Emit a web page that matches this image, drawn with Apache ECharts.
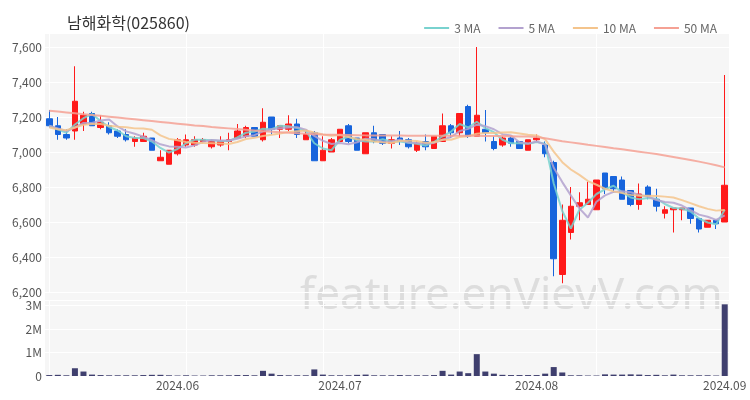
<!DOCTYPE html>
<html>
<head>
<meta charset="utf-8">
<script src="https://cdn.jsdelivr.net/npm/echarts@6/dist/echarts.min.js"></script>
<style>
html,body{margin:0;padding:0;background:#fff;}
#chart{width:750px;height:400px;}
</style>
</head>
<body>
<div id="chart"></div>
<script>
const title = '남해화학(025860)';
const dates = [
'2024-05-10','2024-05-13','2024-05-14','2024-05-16','2024-05-17','2024-05-20','2024-05-21','2024-05-22','2024-05-23','2024-05-24',
'2024-05-27','2024-05-28','2024-05-29','2024-05-30','2024-05-31',
'2024-06-03','2024-06-04','2024-06-05','2024-06-07','2024-06-10','2024-06-11','2024-06-12','2024-06-13','2024-06-14','2024-06-17',
'2024-06-18','2024-06-19','2024-06-20','2024-06-21','2024-06-24','2024-06-25','2024-06-26','2024-06-27','2024-06-28',
'2024-07-01','2024-07-02','2024-07-03','2024-07-04','2024-07-05','2024-07-08','2024-07-09','2024-07-10','2024-07-11','2024-07-12',
'2024-07-15','2024-07-16','2024-07-17','2024-07-18','2024-07-19','2024-07-22','2024-07-23','2024-07-24','2024-07-25','2024-07-26',
'2024-07-29','2024-07-30','2024-07-31',
'2024-08-01','2024-08-02','2024-08-05','2024-08-06','2024-08-07','2024-08-08','2024-08-09','2024-08-12','2024-08-13','2024-08-14',
'2024-08-15','2024-08-16','2024-08-19','2024-08-20','2024-08-21','2024-08-22','2024-08-23','2024-08-26','2024-08-27','2024-08-28',
'2024-08-29','2024-08-30',
'2024-09-02'
];
const opens = [7190,7150,7100,7120,7160,7220,7140,7150,7120,7100, 7060,7060,7080,6950,6930,6990,7040,7040,7060,7030,
7040,7060,7080,7090,7140,7070,7200,7130,7130,7160, 7070,7110,6950,7000,7060,7150,7080,6990,7110,7100,
7050,7080,7070,7010,7060,7020,7060,7150,7110,7260, 7090,7130,7060,7040,7080,7060,7010,7070,7040,6940,
6300,6540,6690,6700,6670,6880,6860,6840,6780,6700, 6800,6730,6650,6670,6670,6680,6620,6570,6610,6600];
const closes = [7150,7100,7080,7290,7210,7150,7170,7110,7090,7070, 7080,7090,7010,6970,7010,7070,7070,7070,7070,7060,
7060,7070,7120,7140,7090,7170,7130,7150,7160,7100, 7100,6950,7010,7070,7130,7060,7010,7110,7060,7050,
7070,7060,7030,7050,7030,7090,7150,7110,7220,7090, 7210,7110,7020,7080,7050,7020,7070,7080,6990,6390,
6610,6690,6710,6730,6840,6790,6790,6730,6700,6760, 6750,6690,6670,6680,6680,6620,6560,6610,6590,6810];
const lows = [7140,7070,7070,7070,7120,7150,7130,7100,7080,7060, 7030,7060,7010,6950,6930,6980,7030,7030,7050,7020,
7030,7010,7080,7080,7090,7060,7100,7080,7120,7080, 7070,6950,6950,7000,7060,7050,7010,6990,7050,7040,
7020,7040,7020,7000,7010,7020,7060,7080,7090,7080, 7090,7060,7010,7030,7030,7020,7010,7060,6970,6290,
6250,6500,6610,6700,6670,6760,6770,6730,6690,6670, 6730,6660,6620,6540,6610,6590,6540,6570,6560,6600];
const highs = [7240,7200,7130,7490,7230,7230,7210,7170,7130,7130, 7090,7110,7080,7010,7010,7080,7100,7090,7080,7070,
7090,7110,7160,7150,7140,7250,7200,7150,7210,7190, 7120,7120,7090,7080,7130,7160,7080,7110,7150,7100,
7090,7120,7080,7060,7100,7090,7220,7160,7220,7270, 7600,7240,7090,7090,7090,7060,7070,7100,7060,6950,
6700,6800,6770,6830,6840,6880,6860,6860,6780,6820, 6810,6790,6690,6680,6680,6680,6620,6610,6610,7440];
const volumes = [40000,50000,30000,330000,190000,60000,40000,30000,30000,30000, 30000,40000,50000,50000,30000,20000,30000,20000,20000,30000,
30000,30000,40000,40000,30000,220000,100000,40000,30000,30000, 30000,280000,60000,30000,30000,30000,50000,60000,30000,30000,
30000,40000,30000,30000,30000,40000,220000,60000,190000,120000, 930000,190000,100000,50000,40000,40000,40000,40000,100000,380000,
150000,30000,30000,20000,20000,70000,60000,60000,70000,60000, 40000,50000,30000,60000,30000,30000,30000,30000,20000,3050000];
const ma3 = [7150,7130,7110,7157,7193,7217,7177,7143,7123,7090, 7080,7080,7060,7023,6997,7017,7050,7070,7070,7067,
7063,7063,7083,7110,7117,7133,7130,7150,7147,7137, 7120,7050,7020,7010,7070,7087,7067,7060,7060,7073,
7060,7060,7053,7047,7037,7057,7090,7117,7160,7140, 7173,7137,7113,7070,7050,7050,7047,7057,7047,6820,
6663,6563,6670,6710,6760,6787,6807,6770,6740,6730, 6737,6733,6703,6680,6677,6660,6620,6597,6587,6670];
const ma5 = [7150,7135,7120,7140,7166,7166,7180,7186,7146,7118, 7104,7088,7068,7044,7032,7030,7026,7038,7058,7068,
7066,7066,7076,7090,7096,7118,7130,7136,7140,7142, 7128,7092,7064,7046,7052,7044,7056,7076,7074,7058,
7060,7070,7054,7052,7048,7052,7070,7086,7120,7132, 7156,7148,7130,7102,7094,7056,7048,7060,7042,6910,
6828,6752,6678,6626,6716,6752,6772,6776,6770,6754, 6746,6726,6714,6710,6694,6668,6642,6630,6612,6638];
const ma10 = [7140,7130,7125,7140,7155,7160,7160,7150,7145,7142, 7135,7134,7127,7095,7075,7067,7057,7053,7051,7050,
7048,7046,7057,7074,7082,7092,7098,7106,7115,7119, 7123,7111,7100,7093,7097,7086,7074,7070,7060,7055,
7052,7063,7065,7063,7053,7056,7070,7070,7086,7090, 7104,7109,7108,7111,7113,7106,7098,7095,7072,7002,
6942,6900,6869,6834,6813,6790,6775,6765,6755,6750, 6750,6748,6745,6740,6725,6708,6690,6675,6665,6668];
const ma50 = [7236,7231,7226,7221,7216,7211,7207,7202,7197,7192, 7187,7182,7177,7172,7167,7162,7157,7152,7148,7143,
7139,7135,7131,7127,7123,7119,7116,7113,7110,7107, 7104,7102,7100,7099,7098,7097,7096,7095,7095,7094,
7094,7094,7093,7093,7093,7093,7093,7093,7093,7093, 7093,7092,7092,7091,7090,7089,7088,7086,7078,7070,
7062,7055,7048,7041,7035,7029,7022,7016,7009,7002, 6995,6988,6980,6972,6963,6954,6945,6935,6924,6912];
const priceTicks = {min: 6200, max: 7680, step: 200};
const volTicks = {min: 0, max: 3234000, step: 1000000};
const maNames = ['3 MA','5 MA','10 MA','50 MA'];

const candleData = dates.map((d, i) => [opens[i], closes[i], lows[i], highs[i]]);
const FONT = "'Noto Sans CJK KR', 'Noto Sans', sans-serif";
const chart = echarts.init(document.getElementById('chart'), null, {renderer: 'canvas'});
const maColors = ['#79d2cf', '#b3a2cf', '#f4c48c', '#f5a194'];
function maSeries(name, data, color) {
  return {name, type: 'line', data, xAxisIndex: 0, yAxisIndex: 0, showSymbol: false, symbol: 'none',
    lineStyle: {width: 2, color, opacity: 0.85}, itemStyle: {color}, z: 3, silent: true};
}
chart.setOption({
  animation: false,
  backgroundColor: '#ffffff',
  title: {text: title, left: 62, top: 10, textStyle: {fontFamily: FONT, fontSize: 16, fontWeight: 'normal', color: '#333'}},
  legend: {data: maNames, right: 28, top: 17, itemWidth: 25, itemHeight: 2, itemGap: 18, icon: 'rect',
    textStyle: {fontFamily: FONT, fontSize: 12, color: '#666'}},
  graphic: [
    {type: 'rect', z: -10, silent: true, shape: {x: 45, y: 33, width: 684, height: 343}, style: {fill: '#f6f6f6'}},
    {type: 'text', z: -5, silent: true, left: 300, top: 274, style: {text: 'feature.enVievV.com', fill: 'rgba(200,200,200,0.55)', font: "44px 'Noto Sans', sans-serif"}}
  ],
  grid: [
    {left: 45, right: 21, top: 33, height: 259},
    {left: 45, right: 21, top: 300, height: 76}
  ],
  xAxis: [
    {type: 'category', gridIndex: 0, data: dates, boundaryGap: true,
      axisLine: {show: false}, axisTick: {show: false, alignWithLabel: true, interval: 15}, axisLabel: {show: false},
      splitLine: {show: true, interval: 15, alignWithLabel: true, lineStyle: {color: '#ffffff', width: 1}}},
    {type: 'category', gridIndex: 1, data: dates, boundaryGap: true,
      axisLine: {show: false}, axisTick: {show: false, alignWithLabel: true, interval: 15},
      splitLine: {show: true, interval: 15, alignWithLabel: true, lineStyle: {color: '#ffffff', width: 1}},
      axisLabel: {show: true, color: '#555', fontFamily: FONT, fontSize: 12, margin: 3,
        interval: (idx, val) => idx > 0 && val.slice(0, 7) !== dates[idx - 1].slice(0, 7),
        formatter: v => v.slice(0, 4) + '.' + v.slice(5, 7)}}
  ],
  yAxis: [
    {type: 'value', gridIndex: 0, min: priceTicks.min, max: priceTicks.max, interval: priceTicks.step, scale: true,
      axisLine: {show: false}, axisTick: {show: false},
      axisLabel: {color: '#555', fontFamily: FONT, fontSize: 12, margin: 3, showMaxLabel: false,
        formatter: v => v.toLocaleString('en-US')},
      splitLine: {lineStyle: {color: '#ffffff', width: 1}}},
    {type: 'value', gridIndex: 1, min: volTicks.min, max: volTicks.max, interval: volTicks.step,
      axisLine: {show: false}, axisTick: {show: false},
      axisLabel: {color: '#555', fontFamily: FONT, fontSize: 12, margin: 3, showMaxLabel: false,
        formatter: v => v === 0 ? '0' : (v / 1000000) + 'M'},
      splitLine: {lineStyle: {color: '#ffffff', width: 1}}}
  ],
  series: [
    {name: 'price', type: 'candlestick', data: candleData, xAxisIndex: 0, yAxisIndex: 0, barWidth: 6, z: 2,
      itemStyle: {color: '#ff1a1a', color0: '#1764dc', borderColor: '#ff1a1a', borderColor0: '#1764dc', borderWidth: 1}},
    maSeries(maNames[0], ma3, maColors[0]),
    maSeries(maNames[1], ma5, maColors[1]),
    maSeries(maNames[2], ma10, maColors[2]),
    maSeries(maNames[3], ma50, maColors[3]),
    {name: 'volume', type: 'bar', data: volumes, xAxisIndex: 1, yAxisIndex: 1, barWidth: 6,
      itemStyle: {color: '#3f3f6e'}}
  ]
});
</script>
</body>
</html>
